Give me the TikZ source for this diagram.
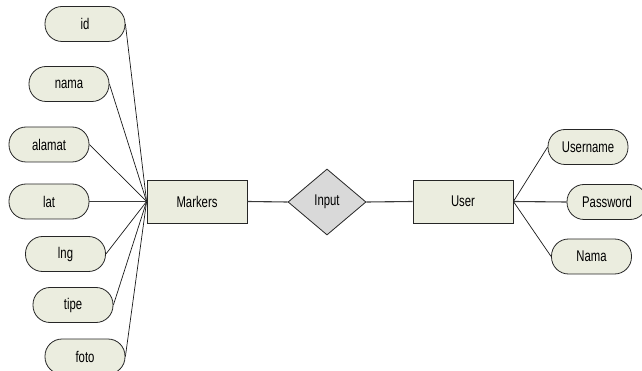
\documentclass[tikz,border=0pt]{standalone}
\usepackage{fontspec}
\setmainfont{Liberation Sans}[FakeStretch=0.73]
\usetikzlibrary{shapes.geometric}
\definecolor{attrfill}{HTML}{EBEDDF}
\definecolor{relfill}{HTML}{D9D9D9}
\definecolor{linegray}{HTML}{3A3A3A}
\tikzset{
  lbl/.style={font=\fontsize{15.5}{17}\selectfont, text=black},
  attr/.style={lbl, draw=black!85, line width=0.8pt, rounded corners=17pt, fill=attrfill, minimum width=80pt, minimum height=35pt, inner sep=0pt},
  ent/.style={lbl, draw=black!85, line width=0.8pt, fill=attrfill, minimum width=100pt, minimum height=43pt, inner sep=0pt},
  rel/.style={lbl, diamond, draw=black!85, line width=0.8pt, fill=relfill, minimum width=78pt, minimum height=66pt, inner sep=0pt},
  link/.style={draw=black!90, line width=0.7pt},
  mainlink/.style={draw=linegray, line width=1.1pt}
}
\begin{document}
\begin{tikzpicture}[x=1pt,y=1pt]
\useasboundingbox (0,0) rectangle (642,-371);
\node[attr] (id) at (85,-24) {id};
\node[attr] (nama) at (69,-84) {nama};
\node[attr] (alamat) at (49,-144.5) {alamat};
\node[attr] (lat) at (49,-201.5) {lat};
\node[attr] (lng) at (65.5,-254) {lng};
\node[attr] (tipe) at (73,-305) {tipe};
\node[attr] (foto) at (85,-356.5) {foto};
\node[ent] (markers) at (197,-201.5) {Markers};
\node[rel] (input) at (327,-202) {Input};
\node[ent] (user) at (463,-201.5) {User};
\node[attr] (username) at (588,-147) {Username};
\node[attr] (password) at (607,-202) {Password};
\node[attr] (nama2) at (591.5,-256.5) {Nama};
\foreach \a in {id,nama,alamat,lng,tipe,foto}
  \draw[link] (\a.east) -- (markers.west);
\draw[mainlink] (lat.east) -- (markers.west);
\draw[mainlink] (markers.east) -- (input.west);
\draw[mainlink] (input.east) -- (user.west);
\draw[link] (user.east) -- (username.west);
\draw[mainlink] (user.east) -- (password.west);
\draw[link] (user.east) -- (nama2.west);
\end{tikzpicture}
\end{document}
